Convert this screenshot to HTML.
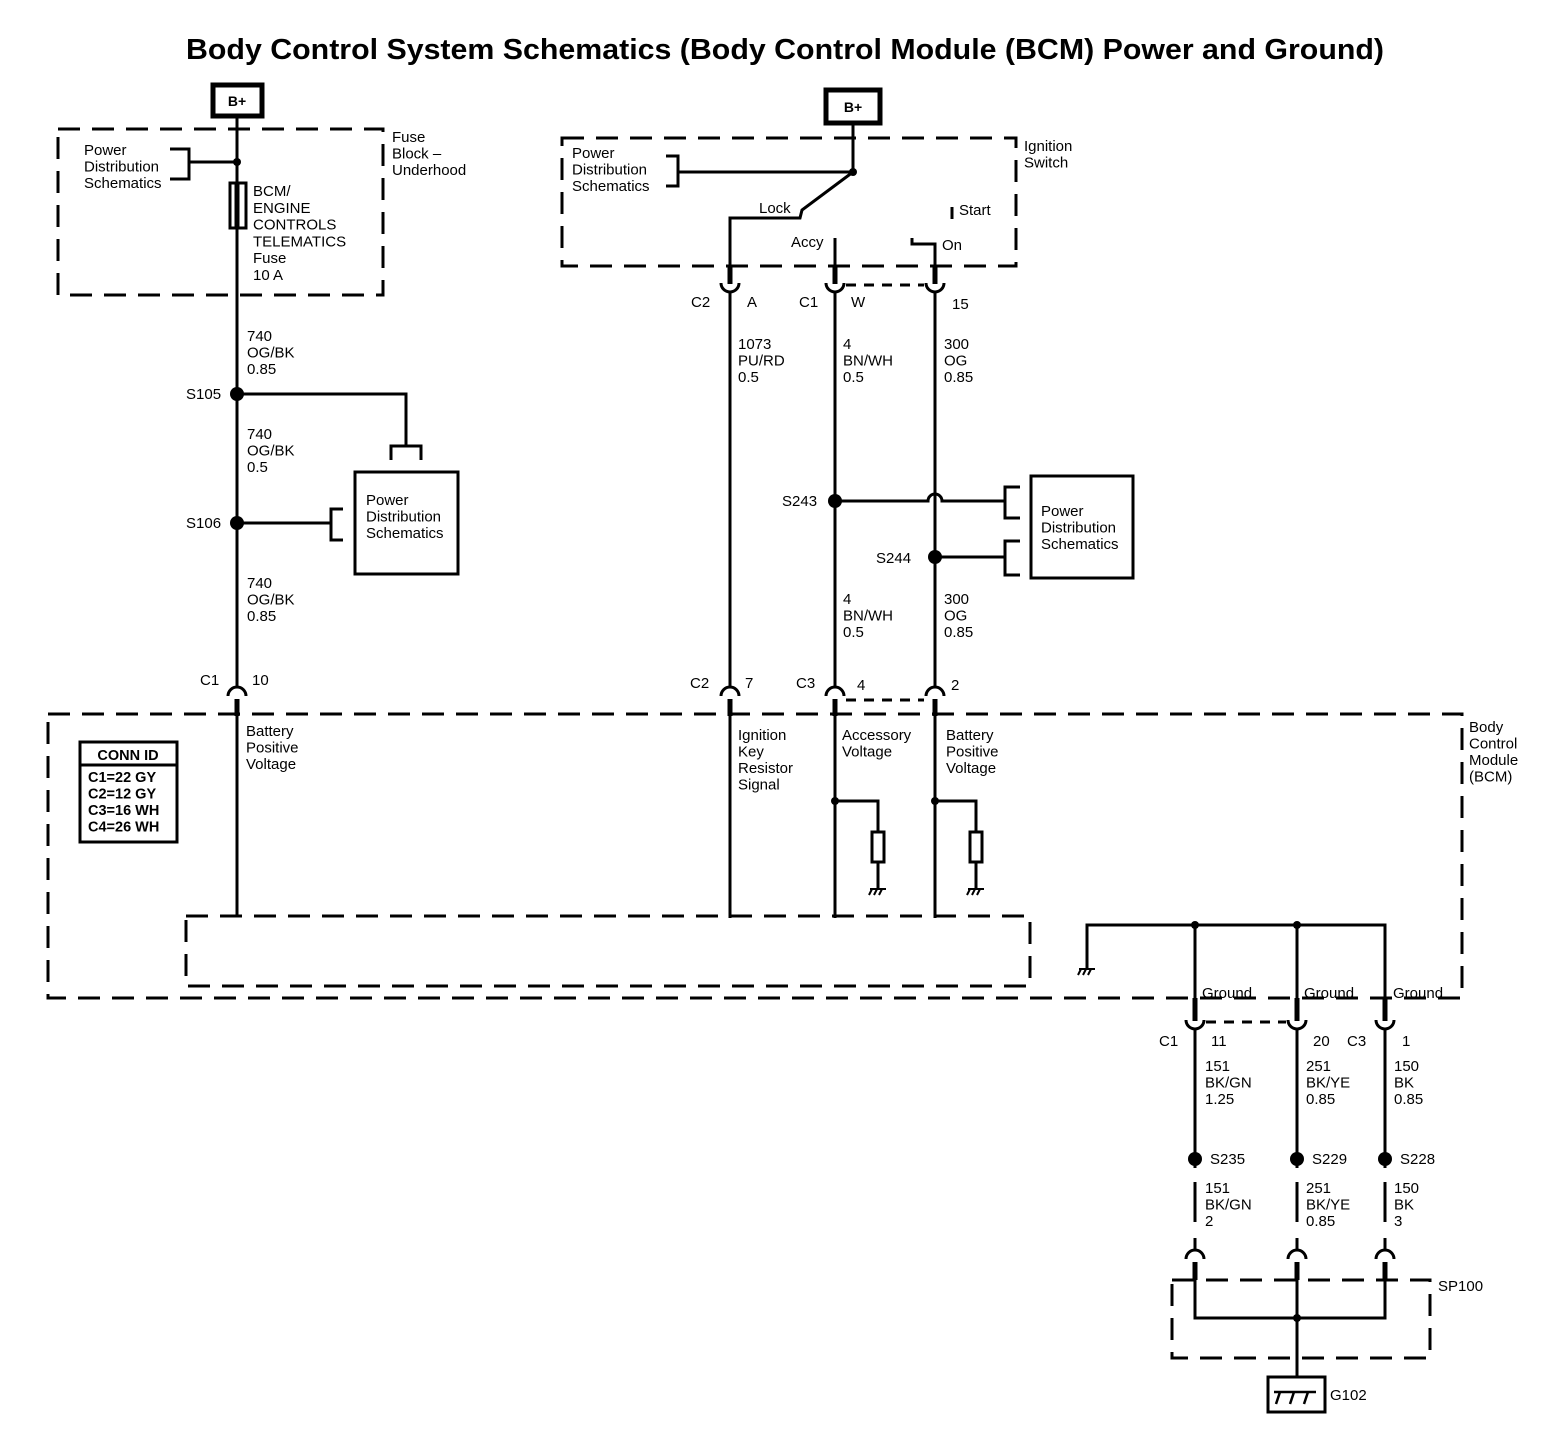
<!DOCTYPE html>
<html><head><meta charset="utf-8"><style>
html,body{margin:0;padding:0;background:#fff}
svg{display:block}
text{font-family:"Liberation Sans",sans-serif;font-size:15px;fill:#000}
</style></head><body>
<svg width="1568" height="1434" viewBox="0 0 1568 1434" xmlns="http://www.w3.org/2000/svg">
<text x="785" y="59" text-anchor="middle" textLength="1198" lengthAdjust="spacingAndGlyphs" style="font-size:29px;font-weight:bold">Body Control System Schematics (Body Control Module (BCM) Power and Ground)</text>
<g stroke="#000" fill="none" stroke-width="3">
<rect x="213" y="85" width="49" height="31" stroke-width="5"/>
<line x1="237" y1="117" x2="237" y2="687"/>
<rect x="58" y="129" width="325" height="166" stroke-dasharray="22 12"/>
<path d="M170 149 H189 V179 H170 M189 162 H237"/>
<rect x="230" y="183" width="16" height="45" stroke-width="3"/>
<line x1="237" y1="183" x2="237" y2="228" stroke-width="5"/>
<path d="M237 394 H406 V445"/>
<path d="M391 460 V446 H421 V460"/>
<rect x="355" y="472" width="103" height="102"/>
<path d="M237 523 H331"/>
<path d="M343 509 H331 V540 H343"/>
<path d="M48 714 H1462 V998 H48 Z" stroke-dasharray="22 12"/>
<rect x="186" y="916" width="844" height="70" stroke-dasharray="22 12"/>
<rect x="80" y="742" width="97" height="100" stroke-width="3"/>
<line x1="80" y1="765" x2="177" y2="765" stroke-width="3"/>
<line x1="237" y1="716" x2="237" y2="916"/>
<rect x="826" y="90" width="54" height="33" stroke-width="5"/>
<rect x="562" y="138" width="454" height="128" stroke-dasharray="22 12"/>
<path d="M853 124 V172 H678"/>
<path d="M666 156 H678 V186 H666"/>
<path d="M853 172 L802 210 L800 218 H730 V266"/>
<line x1="835" y1="238" x2="835" y2="266"/>
<line x1="952" y1="207" x2="952" y2="219"/>
<path d="M912 238 V244 H935 V266"/>
<g stroke-width="5"><line x1="730" y1="266" x2="730" y2="284"/><line x1="835" y1="266" x2="835" y2="284"/><line x1="935" y1="266" x2="935" y2="284"/></g>
<path d="M721 283 A9 9 0 0 0 739 283 M826 283 A9 9 0 0 0 844 283 M926 283 A9 9 0 0 0 944 283"/>
<line x1="846" y1="285" x2="924" y2="285" stroke-dasharray="10 8"/>
<line x1="730" y1="292" x2="730" y2="687"/>
<line x1="835" y1="292" x2="835" y2="687"/>
<line x1="935" y1="292" x2="935" y2="687"/>
<path d="M835 501 H928 A7 7 0 0 1 942 501 H1005"/>
<path d="M935 557 H1005"/>
<path d="M1020 487 H1005 V518 H1020 M1020 541 H1005 V575 H1020"/>
<rect x="1031" y="476" width="102" height="102"/>
<path d="M228 696 A9 9 0 0 1 246 696 M721 696 A9 9 0 0 1 739 696 M826 696 A9 9 0 0 1 844 696 M926 696 A9 9 0 0 1 944 696"/>
<g stroke-width="5"><line x1="237" y1="699" x2="237" y2="716"/><line x1="730" y1="699" x2="730" y2="716"/><line x1="835" y1="699" x2="835" y2="716"/><line x1="935" y1="699" x2="935" y2="716"/></g>
<line x1="846" y1="700" x2="924" y2="700" stroke-dasharray="10 8"/>
<line x1="730" y1="716" x2="730" y2="918"/>
<line x1="835" y1="716" x2="835" y2="918"/>
<line x1="935" y1="716" x2="935" y2="918"/>
<path d="M835 801 H878 V832 M878 862 V888"/>
<rect x="872" y="832" width="12" height="30"/>
<path d="M935 801 H976 V832 M976 862 V888"/>
<rect x="970" y="832" width="12" height="30"/>
<g stroke-width="2"><path d="M870 889 H886 M872 889 L869 895 M877 889 L874 895 M882 889 L879 895"/><path d="M968 889 H984 M970 889 L967 895 M975 889 L972 895 M980 889 L977 895"/><path d="M1079 969 H1095 M1081 969 L1078 975 M1086 969 L1083 975 M1091 969 L1088 975"/></g>
<path d="M1087 968 V925 H1385 V998"/>
<line x1="1195" y1="925" x2="1195" y2="998"/>
<line x1="1297" y1="925" x2="1297" y2="998"/>
<g stroke-width="5"><line x1="1195" y1="998" x2="1195" y2="1021"/><line x1="1297" y1="998" x2="1297" y2="1021"/><line x1="1385" y1="998" x2="1385" y2="1021"/></g>
<path d="M1186 1020 A9 9 0 0 0 1204 1020 M1288 1020 A9 9 0 0 0 1306 1020 M1376 1020 A9 9 0 0 0 1394 1020"/>
<line x1="1206" y1="1022" x2="1286" y2="1022" stroke-dasharray="10 8"/>
<line x1="1195" y1="1029" x2="1195" y2="1168"/>
<line x1="1297" y1="1029" x2="1297" y2="1168"/>
<line x1="1385" y1="1029" x2="1385" y2="1168"/>
<line x1="1195" y1="1182" x2="1195" y2="1222"/><line x1="1297" y1="1182" x2="1297" y2="1222"/><line x1="1385" y1="1182" x2="1385" y2="1222"/>
<line x1="1195" y1="1238" x2="1195" y2="1251"/><line x1="1297" y1="1238" x2="1297" y2="1251"/><line x1="1385" y1="1238" x2="1385" y2="1251"/>
<path d="M1186 1259 A9 9 0 0 1 1204 1259 M1288 1259 A9 9 0 0 1 1306 1259 M1376 1259 A9 9 0 0 1 1394 1259"/>
<g stroke-width="5"><line x1="1195" y1="1262" x2="1195" y2="1280"/><line x1="1297" y1="1262" x2="1297" y2="1280"/><line x1="1385" y1="1262" x2="1385" y2="1280"/></g>
<rect x="1172" y="1280" width="258" height="78" stroke-dasharray="22 12"/>
<path d="M1195 1280 V1318 H1385 V1280 M1297 1280 V1377"/>
<rect x="1268" y="1377" width="57" height="35"/>
<path d="M1274 1392 H1316 M1280 1392 L1276 1404 M1294 1392 L1290 1404 M1308 1392 L1304 1404" stroke-width="2.5"/>
</g>
<g fill="#000">
<circle cx="237" cy="162" r="4"/><circle cx="853" cy="172" r="4"/>
<circle cx="237" cy="394" r="7"/><circle cx="237" cy="523" r="7"/>
<circle cx="835" cy="501" r="7"/><circle cx="935" cy="557" r="7"/>
<circle cx="835" cy="801" r="4"/><circle cx="935" cy="801" r="4"/>
<circle cx="1195" cy="925" r="4"/><circle cx="1297" cy="925" r="4"/><circle cx="1297" cy="1318" r="4"/>
<circle cx="1195" cy="1159" r="7"/><circle cx="1297" cy="1159" r="7"/><circle cx="1385" cy="1159" r="7"/>
</g>
<text x="237" y="106" text-anchor="middle" style="font-weight:bold;font-size:14px">B+</text>
<text x="853" y="112" text-anchor="middle" style="font-weight:bold;font-size:14px">B+</text>
<text x="84" y="155"><tspan>Power</tspan><tspan x="84" dy="16.5">Distribution</tspan><tspan x="84" dy="16.5">Schematics</tspan></text>
<text x="392" y="142"><tspan>Fuse</tspan><tspan x="392" dy="16.5">Block –</tspan><tspan x="392" dy="16.5">Underhood</tspan></text>
<text x="253" y="196"><tspan>BCM/</tspan><tspan x="253" dy="16.8">ENGINE</tspan><tspan x="253" dy="16.8">CONTROLS</tspan><tspan x="253" dy="16.8">TELEMATICS</tspan><tspan x="253" dy="16.8">Fuse</tspan><tspan x="253" dy="16.8">10 A</tspan></text>
<text x="247" y="341"><tspan>740</tspan><tspan x="247" dy="16.5">OG/BK</tspan><tspan x="247" dy="16.5">0.85</tspan></text>
<text x="186" y="399">S105</text>
<text x="247" y="439"><tspan>740</tspan><tspan x="247" dy="16.5">OG/BK</tspan><tspan x="247" dy="16.5">0.5</tspan></text>
<text x="186" y="528">S106</text>
<text x="366" y="505"><tspan>Power</tspan><tspan x="366" dy="16.5">Distribution</tspan><tspan x="366" dy="16.5">Schematics</tspan></text>
<text x="247" y="588"><tspan>740</tspan><tspan x="247" dy="16.5">OG/BK</tspan><tspan x="247" dy="16.5">0.85</tspan></text>
<text x="200" y="685">C1</text><text x="252" y="685">10</text>
<text x="246" y="736"><tspan>Battery</tspan><tspan x="246" dy="16.5">Positive</tspan><tspan x="246" dy="16.5">Voltage</tspan></text>
<text x="128" y="760" text-anchor="middle" style="font-weight:bold;font-size:14.5px">CONN ID</text>
<text x="88" y="782" style="font-weight:bold;font-size:14.5px"><tspan>C1=22 GY</tspan><tspan x="88" dy="16.5">C2=12 GY</tspan><tspan x="88" dy="16.5">C3=16 WH</tspan><tspan x="88" dy="16.5">C4=26 WH</tspan></text>
<text x="572" y="158"><tspan>Power</tspan><tspan x="572" dy="16.5">Distribution</tspan><tspan x="572" dy="16.5">Schematics</tspan></text>
<text x="1024" y="151"><tspan>Ignition</tspan><tspan x="1024" dy="16.5">Switch</tspan></text>
<text x="759" y="213">Lock</text>
<text x="959" y="215">Start</text>
<text x="791" y="247">Accy</text>
<text x="942" y="250">On</text>
<text x="691" y="307">C2</text><text x="747" y="307">A</text>
<text x="799" y="307">C1</text><text x="851" y="307">W</text>
<text x="952" y="309">15</text>
<text x="738" y="349"><tspan>1073</tspan><tspan x="738" dy="16.5">PU/RD</tspan><tspan x="738" dy="16.5">0.5</tspan></text>
<text x="843" y="349"><tspan>4</tspan><tspan x="843" dy="16.5">BN/WH</tspan><tspan x="843" dy="16.5">0.5</tspan></text>
<text x="944" y="349"><tspan>300</tspan><tspan x="944" dy="16.5">OG</tspan><tspan x="944" dy="16.5">0.85</tspan></text>
<text x="782" y="506">S243</text>
<text x="876" y="563">S244</text>
<text x="1041" y="516"><tspan>Power</tspan><tspan x="1041" dy="16.5">Distribution</tspan><tspan x="1041" dy="16.5">Schematics</tspan></text>
<text x="843" y="604"><tspan>4</tspan><tspan x="843" dy="16.5">BN/WH</tspan><tspan x="843" dy="16.5">0.5</tspan></text>
<text x="944" y="604"><tspan>300</tspan><tspan x="944" dy="16.5">OG</tspan><tspan x="944" dy="16.5">0.85</tspan></text>
<text x="690" y="688">C2</text><text x="745" y="688">7</text>
<text x="796" y="688">C3</text><text x="857" y="690">4</text>
<text x="951" y="690">2</text>
<text x="738" y="740"><tspan>Ignition</tspan><tspan x="738" dy="16.5">Key</tspan><tspan x="738" dy="16.5">Resistor</tspan><tspan x="738" dy="16.5">Signal</tspan></text>
<text x="842" y="740"><tspan>Accessory</tspan><tspan x="842" dy="16.5">Voltage</tspan></text>
<text x="946" y="740"><tspan>Battery</tspan><tspan x="946" dy="16.5">Positive</tspan><tspan x="946" dy="16.5">Voltage</tspan></text>
<text x="1469" y="732"><tspan>Body</tspan><tspan x="1469" dy="16.5">Control</tspan><tspan x="1469" dy="16.5">Module</tspan><tspan x="1469" dy="16.5">(BCM)</tspan></text>
<text x="1202" y="998">Ground</text><text x="1304" y="998">Ground</text><text x="1393" y="998">Ground</text>
<text x="1159" y="1046">C1</text><text x="1211" y="1046">11</text>
<text x="1313" y="1046">20</text><text x="1347" y="1046">C3</text><text x="1402" y="1046">1</text>
<text x="1205" y="1071"><tspan>151</tspan><tspan x="1205" dy="16.5">BK/GN</tspan><tspan x="1205" dy="16.5">1.25</tspan></text>
<text x="1306" y="1071"><tspan>251</tspan><tspan x="1306" dy="16.5">BK/YE</tspan><tspan x="1306" dy="16.5">0.85</tspan></text>
<text x="1394" y="1071"><tspan>150</tspan><tspan x="1394" dy="16.5">BK</tspan><tspan x="1394" dy="16.5">0.85</tspan></text>
<text x="1210" y="1164">S235</text><text x="1312" y="1164">S229</text><text x="1400" y="1164">S228</text>
<text x="1205" y="1193"><tspan>151</tspan><tspan x="1205" dy="16.5">BK/GN</tspan><tspan x="1205" dy="16.5">2</tspan></text>
<text x="1306" y="1193"><tspan>251</tspan><tspan x="1306" dy="16.5">BK/YE</tspan><tspan x="1306" dy="16.5">0.85</tspan></text>
<text x="1394" y="1193"><tspan>150</tspan><tspan x="1394" dy="16.5">BK</tspan><tspan x="1394" dy="16.5">3</tspan></text>
<text x="1438" y="1291">SP100</text>
<text x="1330" y="1400">G102</text>
</svg>
</body></html>
